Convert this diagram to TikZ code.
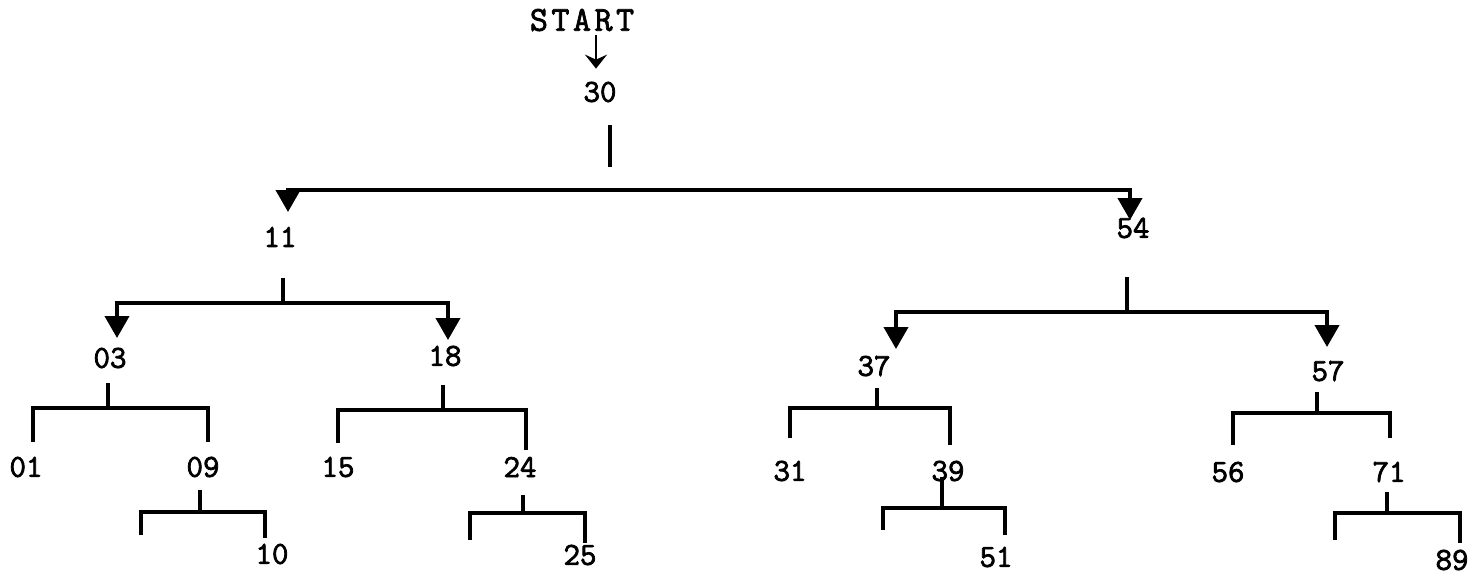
\documentclass[tikz,border=0pt]{standalone}
\usepackage{fontspec}
\newfontfamily\tw[FakeBold=2.4]{Latin Modern Mono}
\newfontfamily\twwide[FakeBold=2.2,LetterSpace=10]{Latin Modern Mono}
\usetikzlibrary{arrows.meta}

\begin{document}
\begin{tikzpicture}[x=1pt,y=-1pt,
  num/.style={inner sep=0pt, font=\tw\fontsize{32}{32}\selectfont},
  label/.style={inner sep=0pt, font=\twwide\fontsize{35}{35}\selectfont},
  wire/.style={line width=4pt},
  twig/.style={line width=3.5pt},
  branch/.style={wire,{Triangle[width=24pt,length=22pt]}-{Triangle[width=24pt,length=22pt]}},
  feed/.style={line width=2.8pt,-{Stealth[width=22pt,length=14pt,inset=5pt]}}
]
\useasboundingbox (0,0) rectangle (1482,578);

% keys
\node[label] (start) at (582,20) {START};
\node[num] (n30) at (600,92) {30};
\node[num] (n11) at (280,237) {11};
\node[num] (n54) at (1133,228) {54};
\node[num] (n03) at (110,358) {03};
\node[num] (n18) at (445,356) {18};
\node[num] (n37) at (874,366) {37};
\node[num] (n57) at (1328,371) {57};
\node[num] (n01) at (26,467) {01};
\node[num] (n09) at (203,467) {09};
\node[num] (n15) at (338,467) {15};
\node[num] (n24) at (520,467) {24};
\node[num] (n31) at (790,471) {31};
\node[num] (n39) at (948,471) {39};
\node[num] (n56) at (1228,472) {56};
\node[num] (n71) at (1389,472) {71};
\node[num] (n10) at (272,554) {10};
\node[num] (n25) at (580,555) {25};
\node[num] (n51) at (996,557) {51};
\node[num] (n89) at (1452,560) {89};

% entry arrow
\draw[feed, shorten <=4pt, shorten >=13pt] ([xshift=14pt]start.south) -- ([xshift=-4pt]n30.north);

% bracket corners: t = top of stem, m = stem meets bar, l/r = lower ends
\coordinate (t30) at (610,125); \coordinate (u30) at (610,167);
\coordinate (m30) at (610,190);
\coordinate (l30) at (288,212); \coordinate (r30) at (1130,220);

\coordinate (t11) at (283,278); \coordinate (m11) at (283,303);
\coordinate (l11) at (117,338); \coordinate (r11) at (448,340);

\coordinate (t54) at (1127,277); \coordinate (m54) at (1127,312);
\coordinate (l54) at (896,349); \coordinate (r54) at (1327,347);

\coordinate (t03) at (108,383); \coordinate (m03) at (108,408);
\coordinate (l03) at (33,442);  \coordinate (r03) at (208,442);

\coordinate (t18) at (443,385); \coordinate (m18) at (443,410);
\coordinate (l18) at (338,443); \coordinate (r18) at (526,450);

\coordinate (t37) at (877,388); \coordinate (m37) at (877,408);
\coordinate (l37) at (790,438); \coordinate (r37) at (950,445);

\coordinate (t57) at (1317,392); \coordinate (m57) at (1317,413);
\coordinate (l57) at (1233,445); \coordinate (r57) at (1390,438);

\coordinate (t09) at (200,490); \coordinate (m09) at (200,512);
\coordinate (l09) at (141,535); \coordinate (r09) at (265,538);

\coordinate (t24) at (523,495); \coordinate (m24) at (523,513);
\coordinate (l24) at (470,540); \coordinate (r24) at (585,543);

\coordinate (t39) at (942,477); \coordinate (m39) at (942,508);
\coordinate (l39) at (883,530); \coordinate (r39) at (1005,535);

\coordinate (t71) at (1387,492); \coordinate (m71) at (1387,513);
\coordinate (l71) at (1335,540); \coordinate (r71) at (1460,543);

% upper levels, with arrowheads
\draw[wire] (t30) -- (u30);
\draw[branch] (l30) |- (m30) -| (r30);
\draw[wire] (t11) -- (m11);
\draw[branch] (l11) |- (m11) -| (r11);
\draw[wire] (t54) -- (m54);
\draw[branch] (l54) |- (m54) -| (r54);

% lower levels, plain brackets
\foreach \k in {03,18,37,57} {
  \draw[wire] (t\k) -- (m\k);
  \draw[wire] (l\k) |- (m\k) -| (r\k);
}
\foreach \k in {09,24,39,71} {
  \draw[twig] (t\k) -- (m\k);
  \draw[twig] (l\k) |- (m\k) -| (r\k);
}
\end{tikzpicture}
\end{document}
